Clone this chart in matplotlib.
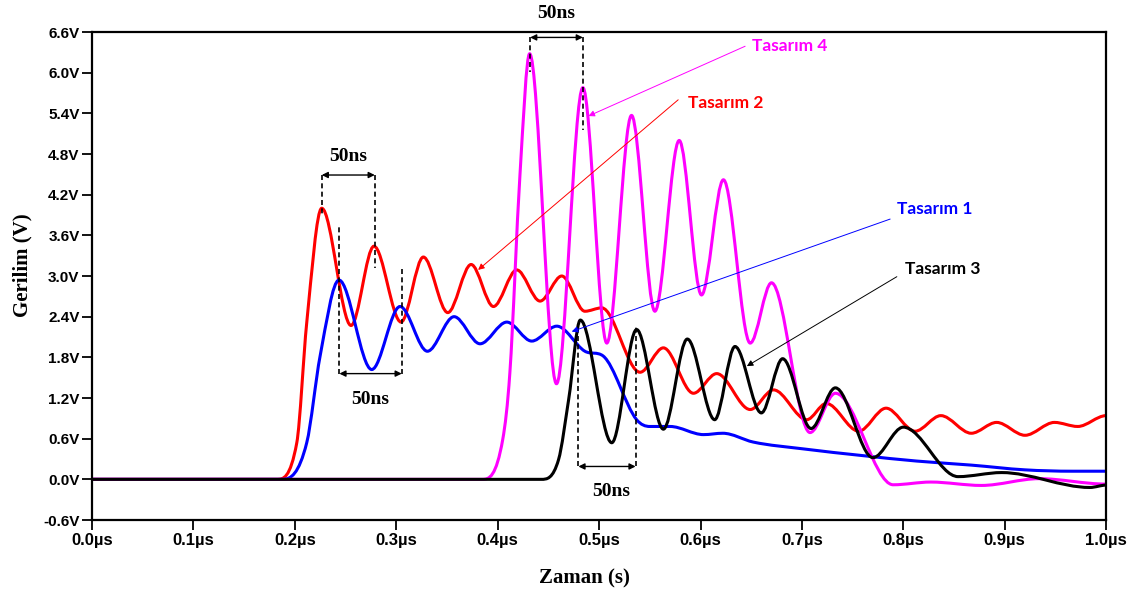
import numpy as np
import matplotlib
matplotlib.use("Agg")
import matplotlib.pyplot as plt
from matplotlib.path import Path
from matplotlib.patches import PathPatch

# turning points of each waveform (time in us, voltage in V)
red_t = [0, 0.182, 0.2019, 0.2117, 0.2265, 0.2554, 0.278, 0.3047, 0.3267, 0.3508,
         0.3738, 0.3958, 0.4188, 0.4418, 0.4632, 0.486, 0.5026, 0.5404, 0.5634, 0.593,
         0.616, 0.649, 0.672, 0.7048, 0.724, 0.756, 0.783, 0.8116, 0.837, 0.867,
         0.892, 0.920, 0.949, 0.972, 1.0]
red_v = [0, 0, 0.54, 2.31, 4.0, 2.27, 3.44, 2.32, 3.28, 2.46,
         3.17, 2.55, 3.09, 2.63, 3.0, 2.48, 2.53, 1.58, 1.94, 1.27,
         1.56, 1.03, 1.32, 0.88, 1.12, 0.71, 1.05, 0.71, 0.94, 0.68,
         0.84, 0.65, 0.84, 0.78, 0.94]

blue_t = [0, 0.188, 0.2117, 0.2249, 0.2435, 0.2758, 0.3037, 0.3307, 0.357, 0.3826,
          0.409, 0.4336, 0.4583, 0.486, 0.504, 0.537, 0.550, 0.570, 0.603, 0.622,
          0.652, 0.701, 0.760, 0.813, 0.867, 0.920, 0.967, 1.0]
blue_v = [0, 0, 0.54, 1.82, 2.94, 1.62, 2.55, 1.89, 2.40, 2.0,
          2.32, 2.04, 2.26, 1.89, 1.82, 0.88, 0.78, 0.78, 0.66, 0.68,
          0.55, 0.45, 0.35, 0.27, 0.21, 0.14, 0.12, 0.12]

mag_t = [0, 0.385, 0.405, 0.412, 0.422, 0.4315, 0.458, 0.484, 0.5076, 0.532,
         0.555, 0.579, 0.601, 0.6226, 0.649, 0.670, 0.708, 0.733, 0.790, 0.827,
         0.877, 0.934, 1.0]
mag_v = [0, 0, 0.59, 1.57, 4.5, 6.28, 1.41, 5.78, 2.01, 5.37,
         2.48, 5.0, 2.72, 4.42, 2.01, 2.90, 0.69, 1.27, -0.08, -0.04,
         -0.09, 0.01, -0.07]

blk_t = [0, 0.443, 0.460, 0.470, 0.4815, 0.5125, 0.537, 0.5634, 0.587, 0.614,
         0.634, 0.660, 0.681, 0.709, 0.733, 0.770, 0.800, 0.854, 0.897, 0.984, 1.0]
blk_v = [0, 0, 0.29, 1.18, 2.35, 0.54, 2.21, 0.74, 2.07, 0.88,
         1.96, 0.98, 1.78, 0.75, 1.35, 0.32, 0.77, 0.04, 0.10, -0.12, -0.085]

x_ticks = np.round(np.arange(0, 1.01, 0.1), 1)
y_ticks = np.round(np.arange(-0.6, 6.61, 0.6), 1)


def smooth_path(xs, ys):
    # cubic segments through the turning points, flat tangent at each extremum
    xs = np.asarray(xs, float)
    ys = np.asarray(ys, float)
    h = np.diff(xs)
    d = np.diff(ys) / h
    m = np.zeros_like(xs)
    for k in range(1, len(xs) - 1):
        if d[k - 1] * d[k] > 0:
            lim = 3 * min(abs(d[k - 1]), abs(d[k]))
            m[k] = np.sign(d[k]) * min(abs(d[k - 1] + d[k]) / 2, lim)
    verts = [(xs[0], ys[0])]
    codes = [Path.MOVETO]
    for k in range(len(xs) - 1):
        verts += [(xs[k] + h[k] / 3, ys[k] + m[k] * h[k] / 3),
                  (xs[k + 1] - h[k] / 3, ys[k + 1] - m[k + 1] * h[k] / 3),
                  (xs[k + 1], ys[k + 1])]
        codes += [Path.CURVE4] * 3
    return Path(verts, codes)


fig = plt.figure(figsize=(11.42, 5.96), dpi=100)
ax = fig.add_axes([0.0806, 0.1275, 0.888, 0.8188])

for xs, ys, col in [(red_t, red_v, "#ff0000"), (blue_t, blue_v, "#0000ff"),
                    (mag_t, mag_v, "#ff00ff"), (blk_t, blk_v, "black")]:
    ax.add_patch(PathPatch(smooth_path(xs, ys), fill=False, edgecolor=col,
                           lw=2.2, capstyle="round", joinstyle="round"))

ax.set_xlim(0, 1.0)
ax.set_ylim(-0.6, 6.6)
ax.set_xticks(x_ticks)
ax.set_yticks(y_ticks)
ax.set_xticklabels([f"{v:.1f}\u00b5s" for v in x_ticks],
                   family=["Liberation Sans Narrow", "Liberation Sans"],
                   fontweight="bold", fontsize=12)
ax.set_yticklabels([f"{v:.1f}V" for v in y_ticks],
                   family="Liberation Sans", fontweight="bold", fontsize=11)
ax.tick_params(direction="out", length=7, width=1.3, pad=2)
for s in ax.spines.values():
    s.set_linewidth(1.6)

fig.text(0.020, 0.555, "Gerilim (V)", rotation=90, ha="center", va="center",
         family="Liberation Serif", fontweight="bold", fontsize=15)
fig.text(0.512, 0.030, "Zaman (s)", ha="center", va="center",
         family="Liberation Serif", fontweight="bold", fontsize=15)

# 50ns period markers
markers = [
    (0.2265, 0.2788, 4.49, 3.90, 3.12, 0.2525, 4.76),
    (0.2439, 0.3054, 1.56, 3.77, 3.11, 0.274, 1.18),
    (0.432, 0.484, 6.52, 6.01, 5.15, 0.4576, 6.88),
    (0.4796, 0.536, 0.19, 2.26, 2.28, 0.512, -0.18),
]
for xa, xb, ya, ta, tb, tx, ty in markers:
    ax.plot([xa, xa], [ya, ta], color="black", lw=1.2, ls=(0, (3, 2)))
    ax.plot([xb, xb], [ya, tb], color="black", lw=1.2, ls=(0, (3, 2)))
    ax.annotate("", xy=(xb, ya), xytext=(xa, ya),
                arrowprops=dict(arrowstyle="<|-|>", color="black", lw=1.0,
                                mutation_scale=9, shrinkA=0, shrinkB=0))
    ax.text(tx, ty, "50ns", ha="center", va="center", family="Liberation Serif",
            fontweight="bold", fontsize=14, clip_on=False)

# design labels with pointer lines
labels = [
    ("Tasar\u0131m 4", "#ff00ff", (0.651, 6.39), (0.644, 6.39), (0.4895, 5.36)),
    ("Tasar\u0131m 2", "#ff0000", (0.588, 5.55), (0.578, 5.60), (0.3807, 3.09)),
    ("Tasar\u0131m 1", "#0000ff", (0.794, 3.99), (0.787, 3.84), (0.473, 2.18)),
    ("Tasar\u0131m 3", "black", (0.802, 3.11), (0.7936, 2.99), (0.6457, 1.67)),
]
for name, col, tpos, start, end in labels:
    ax.text(tpos[0], tpos[1], name, color=col, ha="left", va="center",
            family="Lato", fontweight="bold", fontsize=12.5)
    ax.annotate("", xy=end, xytext=start,
                arrowprops=dict(arrowstyle="-|>", color=col, lw=0.7,
                                mutation_scale=9, shrinkA=0, shrinkB=0))

fig.savefig("out.png", dpi=100)
